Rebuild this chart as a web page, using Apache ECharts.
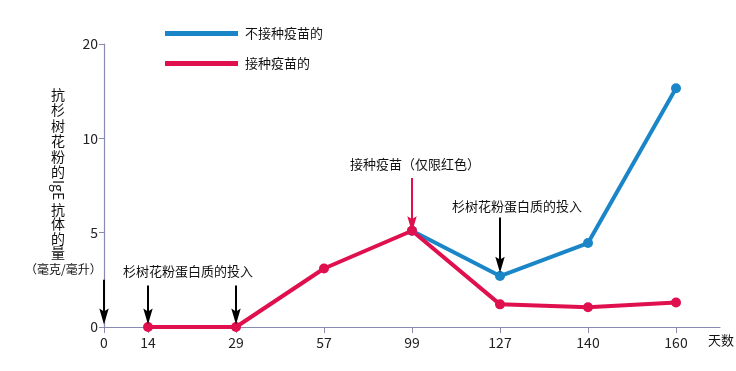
<!DOCTYPE html>
<html><head><meta charset="utf-8">
<script src="https://cdn.jsdelivr.net/npm/echarts@6/dist/echarts.min.js"></script>
<style>html,body{margin:0;padding:0;background:#fff}#c{width:736px;height:371px}</style>
</head><body><div id="c"></div>
<script>
// ---- data ----
var days = ['0', '14', '29', '57', '99', '127', '140', '160'];
var yTickLabels = ['0', '5', '10', '20'];
var yTickValues = [0, 5, 10, 20];
var vaccinated = [null, 0, 0, 3.1, 5.1, 1.2, 1.05, 1.3];       // 接种疫苗的
var unvaccinated = [null, null, null, null, 5.1, 2.7, 4.45, 15.3]; // 不接种疫苗的
// annotation arrows: [day index, start value, end value, colour]
var arrows = [
  [0, 2.5, 0.55, '#000'],
  [1, 2.2, 0.55, '#000'],
  [2, 2.2, 0.55, '#000'],
  [5, 5.8, 3.3, '#000'],
  [4, 7.9, 5.45, '#e0104f']
];

// ---- scales ----
function xpos(i) { return i === 0 ? 0 : i - 0.5; }          // day 0 sits at the axis start, others at band centres
function ymap(v) { return v <= 10 ? v / 5 : 2 + (v - 10) / 10; } // broken axis: 0,5,10,20 equally spaced

function toSeries(arr) {
  var out = [];
  arr.forEach(function (v, i) { if (v !== null) out.push([xpos(i), ymap(v)]); });
  return out;
}
var font = '"Noto Sans CJK SC", "Noto Sans", sans-serif';
var axisColor = '#8a8ab0';

var chart = echarts.init(document.getElementById('c'));
chart.setOption({
  animation: false,
  textStyle: { fontFamily: font },
  grid: { left: 104, right: 16, top: 44, bottom: 44 },
  legend: {
    orient: 'vertical', left: 165, top: 27, itemGap: 17, padding: 0,
    itemWidth: 73, itemHeight: 5, icon: 'rect',
    textStyle: { fontSize: 13, color: '#111', fontFamily: font, padding: [0, 0, 0, 2] },
    data: ['不接种疫苗的', '接种疫苗的']
  },
  xAxis: {
    type: 'value', min: 0, max: 7,
    splitLine: { show: false },
    axisLine: { show: true, lineStyle: { color: axisColor, width: 1.2 } },
    axisTick: { show: true, length: 6, inside: false, lineStyle: { color: axisColor },
      customValues: days.map(function (d, i) { return xpos(i); }) },
    axisLabel: { color: '#222', fontSize: 14, margin: 9,
      customValues: days.map(function (d, i) { return xpos(i); }),
      formatter: function (v) {
        for (var i = 0; i < days.length; i++) if (Math.abs(xpos(i) - v) < 1e-6) return days[i];
        return '';
      } }
  },
  yAxis: {
    type: 'value', min: 0, max: 3,
    splitLine: { show: false },
    axisLine: { show: true, lineStyle: { color: axisColor, width: 1.2 } },
    axisTick: { show: true, length: 5, lineStyle: { color: axisColor },
      customValues: yTickValues.map(ymap) },
    axisLabel: { color: '#222', fontSize: 14, margin: 6,
      customValues: yTickValues.map(ymap),
      formatter: function (v) {
        for (var i = 0; i < yTickValues.length; i++) if (Math.abs(ymap(yTickValues[i]) - v) < 1e-6) return yTickLabels[i];
        return '';
      } }
  },
  series: [
    {
      name: '不接种疫苗的', type: 'line', data: toSeries(unvaccinated),
      color: '#1a86c8', lineStyle: { width: 4 }, symbol: 'circle', symbolSize: 10,
      itemStyle: { color: '#1a86c8' }
    },
    {
      name: '接种疫苗的', type: 'line', data: toSeries(vaccinated),
      color: '#e0104f', lineStyle: { width: 4 }, symbol: 'circle', symbolSize: 10,
      itemStyle: { color: '#e0104f' },
      markLine: {
        silent: true, animation: false,
        symbol: ['none', 'path://M5,0 L10,17 L5,14 L0,17 Z'],
        symbolKeepAspect: true,
        symbolSize: 16,
        label: { show: false },
        data: arrows.map(function (a) {
          return [
            { coord: [xpos(a[0]), ymap(a[1])], lineStyle: { color: a[3], width: 2, type: 'solid' } },
            { coord: [xpos(a[0]), ymap(a[2])] }
          ];
        })
      }
    }
  ],
  graphic: [
    { type: 'text', left: 51, top: 87, style: { text: '抗\n杉\n树\n花\n粉\n的', font: '14px ' + font, fill: '#111', lineHeight: 15.4 } },
    { type: 'text', x: 65, y: 180, rotation: -Math.PI / 2, style: { text: 'IgE', font: '14px ' + font, fill: '#111' } },
    { type: 'text', left: 51, top: 202, style: { text: '抗\n体\n的\n量', font: '14px ' + font, fill: '#111', lineHeight: 14.6 } },
    { type: 'text', left: 25, top: 263, style: { text: '（毫克/毫升）', font: '12px ' + font, fill: '#111' } },
    { type: 'text', left: 123, top: 265, style: { text: '杉树花粉蛋白质的投入', font: '13px ' + font, fill: '#111' } },
    { type: 'text', left: 350, top: 158, style: { text: '接种疫苗（仅限红色）', font: '13px ' + font, fill: '#111' } },
    { type: 'text', left: 452, top: 200, style: { text: '杉树花粉蛋白质的投入', font: '13px ' + font, fill: '#111' } },
    { type: 'text', left: 708, top: 334, style: { text: '天数', font: '13px ' + font, fill: '#111' } }
  ]
});
</script></body></html>
